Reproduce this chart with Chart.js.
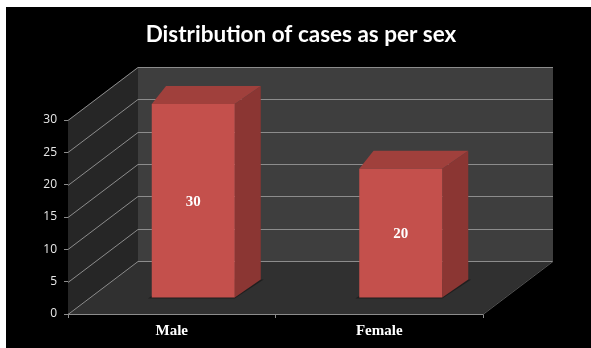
<!DOCTYPE html>
<html>
<head>
<meta charset="utf-8">
<script src="https://cdn.jsdelivr.net/npm/chart.js@4/dist/chart.umd.min.js"></script>
<style>
html,body{margin:0;padding:0;background:#fff;}
#wrap{width:591px;height:348px;position:relative;}
</style>
</head>
<body>
<div id="wrap"><canvas id="c" width="591" height="348"></canvas></div>
<script>
const chartTitle = 'Distribution of cases as per sex';
const categories = ['Male', 'Female'];
const cases = [30, 20];
const yMax = 30;
const yStep = 5;

// 3D geometry (pixels)
const WALL = {dx: 70, dy: -53};
const BAR_FRONT = {dx: 21.5, dy: -16};
const BAR_DEPTH = {dx: 26, dy: -18};

const threeD = {
  id: 'threeD',
  beforeDraw(chart) {
    const ctx = chart.ctx;
    ctx.save();
    ctx.fillStyle = '#ffffff';
    ctx.fillRect(0, 0, chart.width, chart.height);
    ctx.fillStyle = '#000000';
    ctx.fillRect(6, 7, chart.width - 6, chart.height - 7);
    // title
    ctx.fillStyle = '#ffffff';
    ctx.font = 'bold 22.5px Lato, "Open Sans", sans-serif';
    ctx.textAlign = 'center';
    ctx.textBaseline = 'middle';
    ctx.fillText(chartTitle, 301, 35);
    ctx.restore();
  },
  beforeDatasetsDraw(chart) {
    const ctx = chart.ctx;
    const xs = chart.scales.x, ys = chart.scales.y;
    const L = xs.left, R = xs.right;
    const y0 = ys.getPixelForValue(0), yT = ys.getPixelForValue(yMax);
    const dx = WALL.dx, dy = WALL.dy;
    ctx.save();
    // back wall
    ctx.fillStyle = '#3e3e3e';
    ctx.fillRect(L + dx, yT + dy, R - L, y0 - yT);
    // left wall
    ctx.fillStyle = '#262626';
    ctx.beginPath();
    ctx.moveTo(L, yT); ctx.lineTo(L + dx, yT + dy); ctx.lineTo(L + dx, y0 + dy); ctx.lineTo(L, y0);
    ctx.closePath(); ctx.fill();
    // floor
    ctx.fillStyle = '#303030';
    ctx.beginPath();
    ctx.moveTo(L, y0); ctx.lineTo(R, y0); ctx.lineTo(R + dx, y0 + dy); ctx.lineTo(L + dx, y0 + dy);
    ctx.closePath(); ctx.fill();
    // gridlines
    ctx.strokeStyle = '#8c8c8c';
    ctx.lineWidth = 1;
    ys.ticks.forEach(t => {
      const y = Math.round(ys.getPixelForValue(t.value)) + 0.5;
      ctx.beginPath();
      ctx.moveTo(L, y);
      ctx.lineTo(L + dx, y + dy);
      ctx.lineTo(R + dx, y + dy);
      ctx.stroke();
    });
    // floor right edge
    ctx.strokeStyle = '#555555';
    ctx.beginPath();
    ctx.moveTo(R, y0 + 0.5); ctx.lineTo(R + dx, y0 + dy + 0.5);
    ctx.stroke();
    ctx.restore();
  },
  beforeDatasetDraw(chart) {
    const ctx = chart.ctx;
    ctx.save();
    // bar side & top faces
    const meta = chart.getDatasetMeta(0);
    meta.data.forEach(bar => {
      const p = bar.getProps(['x', 'y', 'base', 'width'], true);
      const l = p.x - p.width / 2 + BAR_FRONT.dx, r = p.x + p.width / 2 + BAR_FRONT.dx;
      const t = p.y + BAR_FRONT.dy, b = p.base + BAR_FRONT.dy;
      const ddx = BAR_DEPTH.dx, ddy = BAR_DEPTH.dy;
      // shadow
      ctx.fillStyle = 'rgba(0,0,0,0.35)';
      ctx.beginPath();
      ctx.moveTo(l - 4, b + 1); ctx.lineTo(r, b + 1); ctx.lineTo(r + ddx + 3, b + ddy); ctx.lineTo(l + ddx, b + ddy);
      ctx.closePath(); ctx.fill();
      // side
      ctx.fillStyle = '#8b3633';
      ctx.beginPath();
      ctx.moveTo(r, t); ctx.lineTo(r + ddx, t + ddy); ctx.lineTo(r + ddx, b + ddy); ctx.lineTo(r, b);
      ctx.closePath(); ctx.fill();
      // top
      ctx.fillStyle = '#a0403c';
      ctx.beginPath();
      ctx.moveTo(l, t); ctx.lineTo(l + ddx * 0.55, t + ddy); ctx.lineTo(r + ddx, t + ddy); ctx.lineTo(r, t);
      ctx.closePath(); ctx.fill();
    });
    ctx.translate(BAR_FRONT.dx, BAR_FRONT.dy);
  },
  afterDatasetDraw(chart) {
    chart.ctx.restore();
  },
  afterDatasetsDraw(chart) {
    const ctx = chart.ctx;
    const meta = chart.getDatasetMeta(0);
    ctx.save();
    ctx.fillStyle = '#ffffff';
    ctx.font = 'bold 15px "Liberation Serif", serif';
    ctx.textAlign = 'center';
    ctx.textBaseline = 'middle';
    meta.data.forEach((bar, i) => {
      const p = bar.getProps(['x', 'y', 'base'], true);
      ctx.fillText(String(cases[i]), p.x + BAR_FRONT.dx, (p.y + p.base) / 2 + BAR_FRONT.dy + 1);
    });
    ctx.restore();
  }
};

new Chart(document.getElementById('c'), {
  type: 'bar',
  data: {
    labels: categories,
    datasets: [{
      data: cases,
      backgroundColor: '#c4504c',
      borderWidth: 0,
      barPercentage: 0.4,
      categoryPercentage: 1.0
    }]
  },
  options: {
    responsive: false,
    animation: false,
    events: [],
    layout: {padding: {left: 28, right: 108, top: 120, bottom: 0}},
    plugins: {legend: {display: false}, title: {display: false}, tooltip: {enabled: false}},
    scales: {
      x: {
        afterFit(s) { s.height = 34; },
        grid: {display: true, drawOnChartArea: false, drawTicks: true, tickLength: 4, color: '#8c8c8c', offset: true},
        border: {display: true, color: '#8c8c8c'},
        ticks: {color: '#ffffff', font: {family: '"Liberation Serif", serif', size: 15, weight: 'bold'}, padding: 4}
      },
      y: {
        min: 0, max: yMax,
        afterFit(s) { s.width = 40; },
        grid: {display: true, drawOnChartArea: false, drawTicks: true, tickLength: 4, color: '#8c8c8c'},
        border: {display: true, color: '#8c8c8c'},
        ticks: {stepSize: yStep, color: '#e8e8e8', font: {family: '"Open Sans", sans-serif', size: 12}, padding: 7}
      }
    }
  },
  plugins: [threeD]
});
</script>
</body>
</html>
